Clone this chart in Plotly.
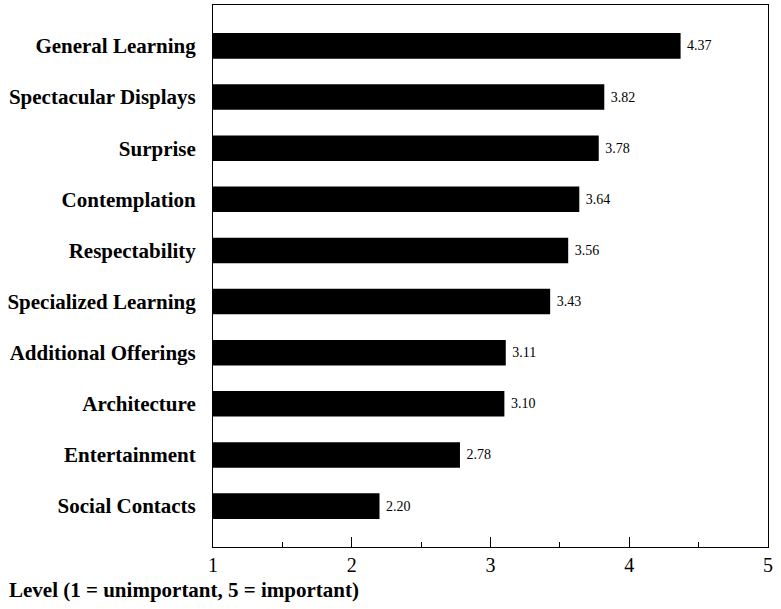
import plotly.graph_objects as go

categories = ["General Learning", "Spectacular Displays", "Surprise", "Contemplation",
              "Respectability", "Specialized Learning", "Additional Offerings",
              "Architecture", "Entertainment", "Social Contacts"]
values = [4.37, 3.82, 3.78, 3.64, 3.56, 3.43, 3.11, 3.10, 2.78, 2.20]
x_ticks = [1, 2, 3, 4, 5]

SERIF = "Liberation Serif, Times New Roman, serif"
L, R, T, B = 213, 13, 5, 62
PW, PH = 781 - L - R, 609 - T - B

fig = go.Figure(go.Bar(
    y=categories, x=values, orientation="h",
    marker=dict(color="black", line=dict(width=0)),
    width=0.5,
    texttemplate=" %{x:.2f}", textposition="outside",
    textfont=dict(family=SERIF, size=14, color="black"),
    cliponaxis=True,
))

fig.update_layout(
    width=781, height=609,
    margin=dict(l=L, r=R, t=T, b=B),
    paper_bgcolor="white", plot_bgcolor="white",
    showlegend=False,
    font=dict(family=SERIF, color="black"),
    xaxis=dict(range=[1, 5], tickvals=x_ticks, ticks="inside", ticklen=10,
               tickcolor="black", tickwidth=1,
               minor=dict(ticks="inside", dtick=0.5, ticklen=5, tickcolor="black", showgrid=False),
               showgrid=False, zeroline=False, showline=True, linecolor="black",
               linewidth=1, mirror=True, tickfont=dict(family=SERIF, size=20, color="black")),
    yaxis=dict(autorange=False, range=[9.8, -0.8], categoryorder="array",
               categoryarray=categories, showgrid=False, zeroline=False,
               showline=True, linecolor="black", linewidth=1, mirror=True,
               ticks="", ticklabelstandoff=12,
               tickfont=dict(family=SERIF, size=21, color="black")),
    annotations=[dict(text="<b>Level (1 = unimportant, 5 = important)</b>",
                      xref="paper", yref="paper", x=-(L - 7) / PW, y=-(590 - (609 - B)) / PH,
                      xanchor="left", yanchor="middle", showarrow=False,
                      font=dict(family=SERIF, size=21, color="black"))],
)
fig.update_yaxes(tickprefix="<b>", ticksuffix="</b>")

fig.write_html("out.html", config={"displayModeBar": False},
               post_script="document.body.style.margin='0';document.body.style.overflow='hidden';")
